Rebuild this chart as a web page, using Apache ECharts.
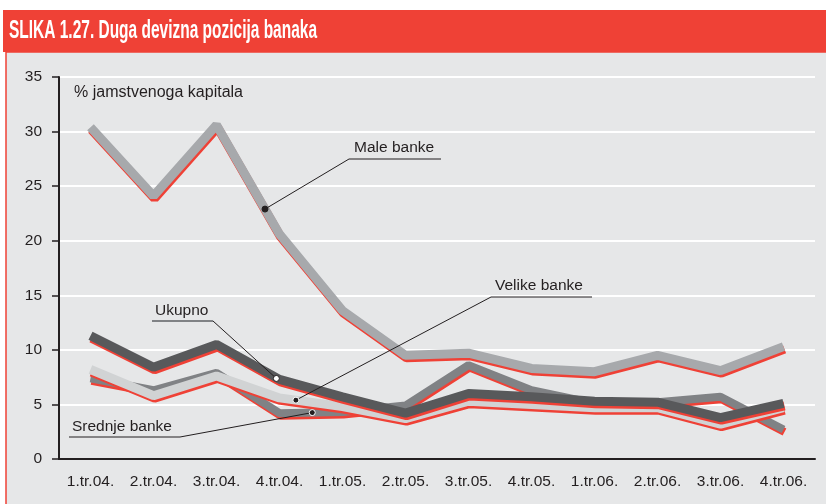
<!DOCTYPE html>
<html lang="hr">
<head>
<meta charset="UTF-8">
<title>Duga devizna pozicija banaka</title>
<script src="https://cdn.jsdelivr.net/npm/echarts@6/dist/echarts.min.js"></script>
<style>
  html, body { margin: 0; padding: 0; background: #fff; }
  #main { width: 826px; height: 504px; }
</style>
</head>
<body>
<div id="main"></div>
<script>
const titleText = 'SLIKA 1.27. Duga devizna pozicija banaka';
const unitText = '% jamstvenoga kapitala';

const quarters = ['1.tr.04.', '2.tr.04.', '3.tr.04.', '4.tr.04.', '1.tr.05.', '2.tr.05.',
                  '3.tr.05.', '4.tr.05.', '1.tr.06.', '2.tr.06.', '3.tr.06.', '4.tr.06.'];

const maleBanke    = [30.4, 24.1, 30.6, 20.6, 13.6, 9.5, 9.7, 8.3, 8.0, 9.5, 8.1, 10.3];
const ukupno       = [11.3, 8.4, 10.5, 7.3, 5.7, 4.2, 6.0, 5.7, 5.3, 5.2, 3.8, 5.1];
const velikeBanke  = [8.2, 5.8, 7.6, 5.6, 4.8, 3.7, 5.3, 5.0, 4.7, 4.7, 3.2, 4.7];
const srednjeBanke = [7.4, 6.3, 7.9, 4.2, 4.3, 4.9, 8.6, 6.3, 5.1, 5.2, 5.7, 2.7];

const yTicks = { min: 0, max: 35, interval: 5 };

const ink = '#231f20';
const red = '#ef4136';
const font = '"Liberation Sans", Arial, sans-serif';

const chart = echarts.init(document.getElementById('main'));

function lineSeries(name, data, color, width, z) {
    return {
        name: name,
        type: 'line',
        data: data,
        symbol: 'none',
        z: z,
        animation: false,
        lineStyle: {
            color: color,
            width: width,
            shadowColor: red,
            shadowBlur: 0,
            shadowOffsetX: 1,
            shadowOffsetY: 2.5
        }
    };
}

// title text is condensed in the original, so squeeze it to its width
const measure = document.createElement('canvas').getContext('2d');
measure.font = 'bold 26px ' + font;
const titleScale = 308 / measure.measureText(titleText).width;

chart.setOption({
    backgroundColor: '#fff',
    animation: false,
    textStyle: { fontFamily: font },
    grid: { left: 59, right: 11, top: 77, bottom: 45 },
    xAxis: {
        type: 'category',
        data: quarters,
        boundaryGap: true,
        axisLine: { lineStyle: { color: ink, width: 2 } },
        axisTick: { interval: 0, length: 6, lineStyle: { color: ink, width: 1.5 } },
        axisLabel: { interval: 0, margin: 15, color: ink, fontSize: 15.5 },
        splitLine: { show: false }
    },
    yAxis: {
        type: 'value',
        min: yTicks.min,
        max: yTicks.max,
        interval: yTicks.interval,
        axisLine: { show: true, lineStyle: { color: ink, width: 2 } },
        axisTick: { show: true, length: 7, lineStyle: { color: ink, width: 1.5 } },
        axisLabel: { margin: 17, color: ink, fontSize: 15.5 },
        splitLine: { show: true, lineStyle: { color: '#ffffff', width: 2 } }
    },
    series: [
        lineSeries('Srednje banke', srednjeBanke, '#808285', 8, 2),
        lineSeries('Velike banke', velikeBanke, '#d1d3d4', 9, 3),
        lineSeries('Ukupno', ukupno, '#58595b', 9, 4),
        lineSeries('Male banke', maleBanke, '#a7a9ac', 9, 5)
    ]
});

// point on a series between two quarters
function onLine(data, i, t) {
    const a = chart.convertToPixel({ gridIndex: 0 }, [i, data[i]]);
    const b = chart.convertToPixel({ gridIndex: 0 }, [i + 1, data[i + 1]]);
    return [a[0] + (b[0] - a[0]) * t, a[1] + (b[1] - a[1]) * t];
}

function callout(label, textPos, underline, anchor, dotFill, dotStroke, ulColor) {
    return [
        { type: 'text', z: 20, style: { text: label, x: textPos[0], y: textPos[1], fill: ink,
            font: '15.5px ' + font, textVerticalAlign: 'middle' } },
        { type: 'line', z: 20, shape: { x1: underline[0], y1: underline[2], x2: underline[1], y2: underline[2] },
            style: { stroke: ulColor || ink, lineWidth: ulColor ? 2 : 1 } },
        { type: 'line', z: 20, shape: { x1: underline[3], y1: underline[2], x2: anchor[0], y2: anchor[1] },
            style: { stroke: ink, lineWidth: 1 } },
        { type: 'circle', z: 21, shape: { cx: anchor[0], cy: anchor[1], r: 3 },
            style: { fill: dotFill, stroke: dotStroke, lineWidth: 1 } }
    ];
}

const maleDot = onLine(maleBanke, 2, 0.77);
const ukupnoDot = onLine(ukupno, 3, -0.05);
const velikeDot = onLine(velikeBanke, 3, 0.26);
const srednjeDot = onLine(srednjeBanke, 3, 0.52);

chart.setOption({
    graphic: [
        { type: 'rect', z: -10, silent: true, shape: { x: 6, y: 52, width: 830, height: 460 },
            style: { fill: '#e6e7e8', stroke: red, lineWidth: 1.5 } },
        { type: 'rect', z: -9, shape: { x: 3, y: 10, width: 830, height: 42 }, style: { fill: red } },
        { type: 'text', z: -8, x: 9, y: 31, scaleX: titleScale,
            style: { text: titleText, fill: '#fff', font: 'bold 26px ' + font,
                textVerticalAlign: 'middle' } },
        { type: 'text', z: 20, style: { text: unitText, x: 74, y: 93, fill: ink,
            font: '16px ' + font, textVerticalAlign: 'middle' } }
    ]
        .concat(callout('Male banke', [354, 148], [349, 441, 159, 349], maleDot, ink, ink))
        .concat(callout('Ukupno', [155, 311], [152, 213, 321, 213], ukupnoDot, '#fff', ink, '#808285'))
        .concat(callout('Velike banke', [495, 286], [491, 592, 297, 491], velikeDot, ink, '#fff'))
        .concat(callout('Srednje banke', [72, 427], [69, 180, 437, 180], srednjeDot, ink, '#fff'))
});
</script>
</body>
</html>
